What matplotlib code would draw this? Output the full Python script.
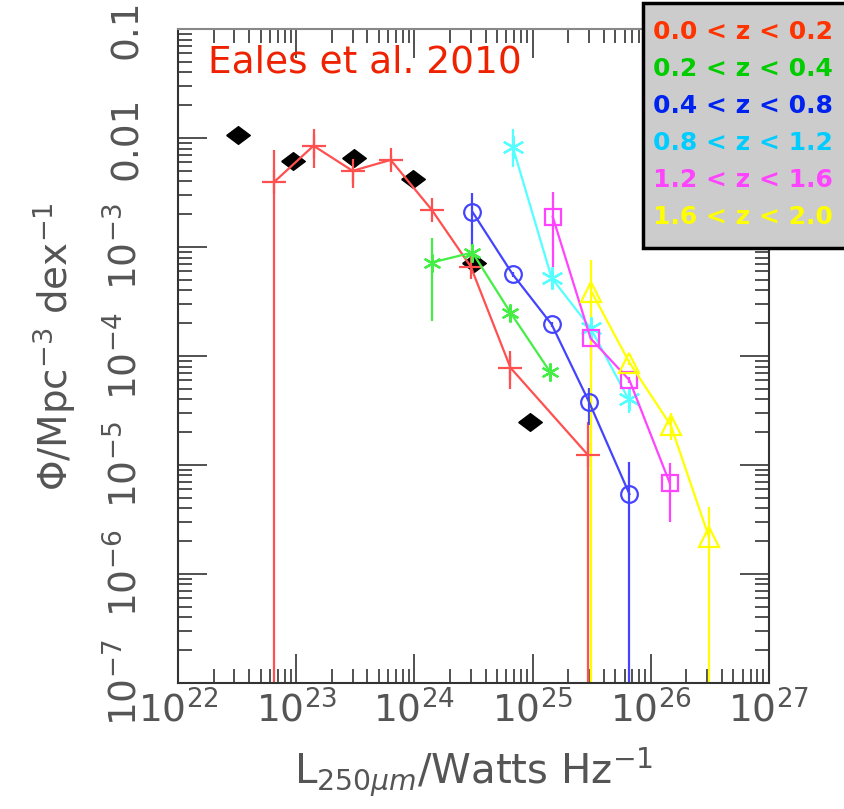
import numpy as np
import matplotlib.pyplot as plt
from matplotlib.patches import Rectangle

# black diamonds
bk_L = [3.2e22, 9.3e22, 3.1e23, 9.8e23, 3.2e24, 9.5e24]
bk_phi = [1.07e-2, 6.2e-3, 6.6e-3, 4.2e-3, 7.2e-4, 2.5e-5]

# 0.0 < z < 0.2
r_L = [6.5e22, 1.4e23, 3.0e23, 6.3e23, 1.4e24, 3.0e24, 6.5e24, 2.95e25]
r_phi = [3.95e-3, 8.5e-3, 5.0e-3, 6.3e-3, 2.2e-3, 6.6e-4, 7.8e-5, 1.23e-5]
r_lo = [1e-9, 5.3e-3, 3.5e-3, 5.6e-3, 2.1e-3, 6.0e-4, 5.0e-5, 1e-9]
r_hi = [7.7e-3, 1.2e-2, 6.3e-3, 7.0e-3, 2.3e-3, 7.2e-4, 1.1e-4, 2.5e-5]

# 0.2 < z < 0.4
g_L = [1.4e24, 3.1e24, 6.5e24, 1.4e25]
g_phi = [7.2e-4, 8.9e-4, 2.5e-4, 7.2e-5]
g_lo = [2.1e-4, 7.0e-4, 2.3e-4, 6.8e-5]
g_hi = [1.2e-3, 1.1e-3, 2.7e-4, 7.6e-5]

# 0.4 < z < 0.8
b_L = [3.1e24, 6.8e24, 1.45e25, 3.0e25, 6.6e25]
b_phi = [2.1e-3, 5.6e-4, 1.95e-4, 3.8e-5, 5.4e-6]
b_lo = [1.0e-3, 5.3e-4, 1.85e-4, 2.3e-5, 1e-9]
b_hi = [3.1e-3, 5.9e-4, 2.05e-4, 5.1e-5, 1.07e-5]

# 0.8 < z < 1.2
c_L = [6.8e24, 1.45e25, 3.1e25, 6.5e25]
c_phi = [8.3e-3, 5.2e-4, 1.8e-4, 4.0e-5]
c_lo = [5.4e-3, 4.9e-4, 1.7e-4, 3.0e-5]
c_hi = [1.2e-2, 5.5e-4, 1.9e-4, 4.5e-5]

# 1.2 < z < 1.6
m_L = [1.48e25, 3.1e25, 6.6e25, 1.45e26]
m_phi = [1.9e-3, 1.45e-4, 6.0e-5, 6.8e-6]
m_lo = [6.6e-4, 9.1e-5, 5.6e-5, 3.0e-6]
m_hi = [3.2e-3, 1.9e-4, 6.4e-5, 1.05e-5]

# 1.6 < z < 2.0
y_L = [3.15e25, 6.6e25, 1.48e26, 3.1e26]
y_phi = [3.9e-4, 8.7e-5, 2.3e-5, 2.2e-6]
y_lo = [1e-9, 8.2e-5, 1.7e-5, 1e-9]
y_hi = [7.6e-4, 9.2e-5, 3.0e-5, 4.1e-6]

labels = ['0.0 < z < 0.2', '0.2 < z < 0.4', '0.4 < z < 0.8',
          '0.8 < z < 1.2', '1.2 < z < 1.6', '1.6 < z < 2.0']
text_cols = ['#ff3300', '#00cc00', '#0022ee', '#00ccff', '#ff44ff', '#ffff00']

plt.rcParams['mathtext.fontset'] = 'dejavusans'

star = (6, 2, 0)
diamond = [(-1, 0), (0, 0.75), (1, 0), (0, -0.75), (-1, 0)]
series = [
    (r_L, r_phi, r_lo, r_hi, '#ff5050', '+', 17),
    (g_L, g_phi, g_lo, g_hi, '#44ee44', star, 13),
    (b_L, b_phi, b_lo, b_hi, '#4444ff', 'o', 12),
    (c_L, c_phi, c_lo, c_hi, '#55ffff', star, 16),
    (m_L, m_phi, m_lo, m_hi, '#ff44ff', 's', 11),
    (y_L, y_phi, y_lo, y_hi, '#ffff00', '^', 14),
]

fig = plt.figure(figsize=(8.44, 8.09), dpi=100)
ax = fig.add_axes([0.211, 0.156, 0.700, 0.808])

for L, phi, lo, hi, col, mk, ms in series:
    phi = np.array(phi)
    yerr = [phi - np.array(lo), np.array(hi) - phi]
    ax.errorbar(L, phi, yerr=yerr, color=col, lw=1.6, elinewidth=1.6,
                marker=mk, ms=ms, mfc='none', mec=col, mew=1.6, capsize=0)

ax.plot(bk_L, bk_phi, marker=diamond, color='black', ms=17, ls='none')

ax.set_xscale('log')
ax.set_yscale('log')
ax.set_xlim(1e22, 1e27)
ax.set_ylim(1e-7, 0.1)

gray = '#555555'
ax.set_xticks([1e22, 1e23, 1e24, 1e25, 1e26, 1e27])
ax.set_xticklabels([r'$10^{%d}$' % p for p in range(22, 28)])
ax.set_yticks([1e-7, 1e-6, 1e-5, 1e-4, 1e-3, 1e-2, 1e-1])
ax.set_yticklabels([r'$10^{-7}$', r'$10^{-6}$', r'$10^{-5}$', r'$10^{-4}$',
                    r'$10^{-3}$', '0.01', '0.1'], rotation=90, va='center')
ax.tick_params(which='both', direction='in', top=True, right=True,
               colors='#333333', labelcolor=gray, labelsize=27, width=1.2)
ax.tick_params(which='major', length=21)
ax.tick_params(which='minor', length=10)
ax.tick_params(axis='y', which='major', pad=24)
ax.tick_params(axis='x', which='major', pad=6)
for s in ax.spines.values():
    s.set_color('#333333')
    s.set_linewidth(1.5)
ax.spines['top'].set_color('#888888')

ax.set_xlabel(r'L$_{250\mu m}$/Watts Hz$^{-1}$', fontsize=29, color=gray)
ax.xaxis.set_label_coords(0.5, -0.095)
ax.set_ylabel(r'$\Phi$/Mpc$^{-3}$ dex$^{-1}$', fontsize=28, color=gray)
ax.yaxis.set_label_coords(-0.17, 0.515)

ax.text(0.051, 0.949, 'Eales et al. 2010', transform=ax.transAxes, color='#ee2200',
        fontsize=27, va='center', ha='left')

# legend box
fig.patches.append(Rectangle((643 / 844, 1 - 248 / 809), 205 / 844, 245 / 809,
                             transform=fig.transFigure, facecolor='#cccccc',
                             edgecolor='black', lw=2.5, zorder=5))
for i, (lab, tc) in enumerate(zip(labels, text_cols)):
    fig.text(743 / 844, 1 - (32 + i * 37) / 809, lab, color=tc, fontsize=18,
             fontweight='bold', ha='center', va='center', zorder=6)

fig.savefig('out.png', dpi=100)
